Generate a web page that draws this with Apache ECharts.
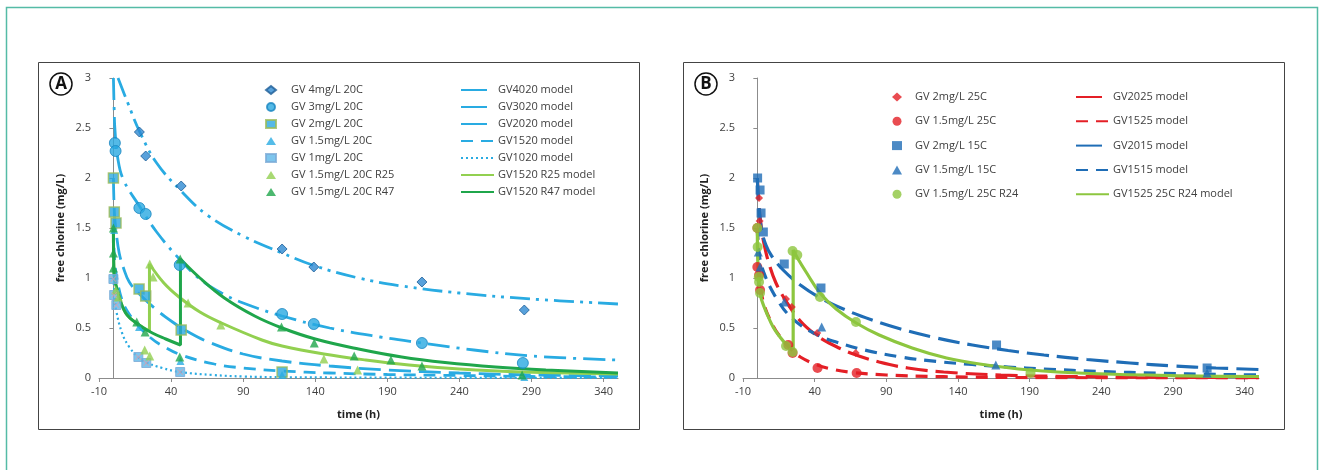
<!DOCTYPE html>
<html><head><meta charset="utf-8">
<script src="https://cdn.jsdelivr.net/npm/echarts@6/dist/echarts.min.js"></script>
<style>html,body{margin:0;padding:0;background:#fff}#c{width:1322px;height:470px}</style>
</head><body><div id="c"></div>
<script>
// ---------- tick labels ----------
const xTicks = [-10, 40, 90, 140, 190, 240, 290, 340];
const yTicks = [0, 0.5, 1, 1.5, 2, 2.5, 3];

// ---------- Panel A: measured data [time h, free chlorine mg/L] ----------
const gv4_20C = [[18,2.46],[22.4,2.22],[47,1.92],[117,1.29],[139,1.11],[214,0.96],[285,0.68]];
const gv3_20C = [[1,2.35],[1.5,2.27],[18,1.70],[22.4,1.64],[46,1.13],[117,0.64],[139,0.54],[214,0.35],[284,0.15]];
const gv2_20C = [[0,2.0],[0.6,1.66],[1.8,1.55],[17.8,0.89],[22.4,0.82],[47,0.48],[117,0.06]];
const gv15_20C = [[0.5,1.48],[17.8,0.51],[46.5,0.17],[117,0.03],[285,0.01]];
const gv1_20C = [[0,0.99],[0.5,0.83],[2,0.73],[17.3,0.21],[22.8,0.15],[46.3,0.06]];
const gv15_20C_R25 = [[1.6,0.88],[3.4,0.81],[21.7,0.28],[25.2,0.22],[25.2,1.14],[27.5,1.01],[51.8,0.75],[74.5,0.53],[146,0.19],[169.4,0.08]];
const gv15_20C_R47 = [[0,1.50],[0,1.25],[0,1.10],[16.2,0.56],[22,0.46],[46,0.21],[46.3,1.19],[116.6,0.51],[139.3,0.35],[167,0.22],[192.5,0.18],[214,0.12],[283.5,0.03]];

// ---------- Panel A: model curves ----------
const m4020 = [[3.2,3.0],[10,2.75],[18,2.47],[30,2.15],[47,1.87],[65,1.63],[90,1.42],[117,1.25],[140,1.12],[170,1.0],[200,0.92],[240,0.85],[290,0.79],[350,0.74]];
const m3020 = [[0,3.0],[0.5,2.7],[1,2.5],[3,2.2],[7,1.98],[18,1.72],[30,1.46],[47,1.17],[60,0.99],[75,0.85],[90,0.75],[117,0.62],[150,0.5],[185,0.41],[214,0.35],[250,0.28],[290,0.22],[350,0.18]];
const m2020 = [[0,2.0],[0.7,1.65],[2,1.45],[4,1.25],[7,1.1],[11,0.96],[18,0.84],[30,0.68],[41,0.56],[52,0.46],[66,0.36],[90,0.24],[117,0.17],[150,0.12],[190,0.08],[240,0.05],[290,0.03],[350,0.02]];
const m1520 = [[0,1.5],[1,1.15],[3,0.95],[6,0.78],[10,0.66],[18,0.51],[26,0.4],[33,0.33],[47,0.23],[70,0.14],[90,0.1],[117,0.07],[150,0.05],[190,0.035],[240,0.025],[290,0.015],[350,0.01]];
const m1020 = [[0,1.0],[1,0.8],[2,0.67],[6,0.45],[11,0.31],[17,0.21],[22,0.16],[34,0.1],[46,0.06],[69,0.03],[90,0.015],[120,0.008],[200,0.003],[350,0.001]];
const m1520R25 = [[0,1.5],[0.4,1.05],[2.7,0.88],[8.5,0.65],[17.8,0.53],[25,0.47],[25,1.14],[35,0.95],[45.5,0.81],[60,0.66],[75,0.55],[103,0.38],[117,0.32],[146,0.24],[175,0.18],[205,0.13],[240,0.09],[284,0.06],[350,0.04]];
const m1520R47 = [[0,1.5],[0.4,1.05],[2.7,0.88],[8.5,0.65],[17.8,0.53],[27,0.45],[36.3,0.39],[46.5,0.33],[46.5,1.19],[60,1.0],[77,0.8],[98,0.62],[117,0.5],[140,0.39],[170,0.29],[200,0.21],[230,0.155],[265,0.11],[300,0.08],[350,0.05]];

// ---------- Panel B: measured data ----------
const gv2_25C = [[1.2,1.80],[1.6,1.57],[20,0.79],[24,0.71],[41.8,0.45],[68.6,0.25]];
const gv15_25C = [[0,1.5],[0,1.11],[1.2,1.03],[1.9,0.88],[21.6,0.33],[24.6,0.25],[42,0.10],[69.3,0.05]];
const gv2_15C = [[0.2,2.0],[1.9,1.88],[2.6,1.65],[4.2,1.46],[18.8,1.14],[44.4,0.90],[166.9,0.33],[313.8,0.10]];
const gv15_15C = [[0.7,1.26],[1.9,1.11],[18.8,0.76],[44.9,0.51],[166.4,0.13],[313.8,0.05]];
const gv15_25C_R24 = [[0,1.50],[0.2,1.31],[1,1.01],[1.2,0.96],[1.9,0.85],[20,0.32],[24.6,0.26],[24.6,1.27],[27.9,1.23],[43.7,0.81],[68.8,0.56],[190.6,0.05]];

// ---------- Panel B: model curves ----------
const m2025 = [[0,2.0],[1,1.75],[3,1.48],[5,1.32],[8,1.15],[13,0.95],[20,0.77],[30,0.57],[40,0.44],[50,0.35],[67,0.24],[85,0.16],[105,0.1],[130,0.06],[170,0.03],[220,0.015],[300,0.006],[350,0.004]];
const m1525 = [[0,1.5],[1,1.1],[2,0.92],[5,0.72],[10,0.55],[15,0.43],[21,0.33],[25,0.27],[30,0.21],[40,0.14],[50,0.095],[65,0.058],[90,0.03],[130,0.013],[200,0.004],[350,0.0]];
const m2015 = [[0,2.0],[1,1.72],[3,1.48],[6,1.33],[10,1.22],[18,1.08],[30,0.93],[44,0.8],[60,0.69],[80,0.58],[100,0.49],[125,0.4],[150,0.33],[175,0.275],[200,0.23],[230,0.185],[260,0.15],[290,0.12],[320,0.1],[350,0.085]];
const m1515 = [[0,1.5],[1,1.27],[3,1.12],[6,1.0],[10,0.88],[15,0.76],[20,0.66],[30,0.53],[42,0.43],[55,0.36],[75,0.28],[100,0.21],[125,0.165],[150,0.135],[175,0.11],[200,0.09],[240,0.065],[280,0.048],[320,0.036],[350,0.03]];
const m1525R24 = [[0,1.5],[0.5,1.1],[1.9,0.86],[3,0.78],[6.5,0.65],[11,0.51],[15.8,0.41],[20,0.34],[25,0.29],[25,1.28],[28,1.2],[34,1.06],[43.7,0.85],[55,0.69],[69,0.55],[85,0.43],[108,0.3],[132,0.2],[155,0.14],[190,0.08],[232,0.045],[298,0.022],[350,0.015]];

// ---------- styling ----------
const FONT = 'Open Sans';
const TXT = '#404040';
const LB = '#29abe2';
const RED = '#e41f26', BLUE = '#1f6db6', LG = '#8dc63f';

function xAx(g){
  return {type:'value', gridIndex:g, min:-10, max:350, interval:50,
    axisLine:{show:true, onZero:false, lineStyle:{color:'#8c8c8c', width:1}},
    axisTick:{show:true, length:4, customValues:xTicks, lineStyle:{color:'#8c8c8c'}},
    axisLabel:{customValues:xTicks, color:TXT, fontSize:11, fontFamily:FONT, margin:8},
    splitLine:{show:false},
    name:'time (h)', nameLocation:'middle', nameGap:31,
    nameTextStyle:{color:'#222', fontWeight:'bold', fontSize:11, fontFamily:FONT}};
}
function yAx(g){
  return {type:'value', gridIndex:g, min:0, max:3, interval:0.5,
    axisLine:{show:true, lineStyle:{color:'#8c8c8c', width:1}},
    axisTick:{show:true, length:4, customValues:yTicks, lineStyle:{color:'#8c8c8c'}},
    axisLabel:{customValues:yTicks, color:TXT, fontSize:11, fontFamily:FONT, margin:8},
    splitLine:{show:false},
    name:'free chlorine (mg/L)', nameLocation:'middle', nameGap:33,
    nameTextStyle:{color:'#222', fontWeight:'bold', fontSize:11, fontFamily:FONT}};
}
function line(name, data, g, color, width, type){
  return {type:'line', name, data, xAxisIndex:g, yAxisIndex:g, symbol:'none',
    smooth:0.4, z:2,
    lineStyle:{color, width, type}, itemStyle:{color}};
}
function pts(name, data, g, symbol, size, style){
  return {type:'scatter', name, data, xAxisIndex:g, yAxisIndex:g, symbol, symbolSize:size,
    z:4, itemStyle:style};
}
const xPath = 'path://M1,0 L5,4 L9,0 L10,1 L6,5 L10,9 L9,10 L5,6 L1,10 L0,9 L4,5 L0,1 Z';

const series = [
  line('GV4020 model', m4020, 0, LB, 2.8, [20,6,3,6,3,6]),
  line('GV3020 model', m3020, 0, LB, 2.8, [22,7,3,7]),
  line('GV2020 model', m2020, 0, LB, 2.8, [22,8]),
  line('GV1520 model', m1520, 0, LB, 2.8, [12,8]),
  line('GV1020 model', m1020, 0, LB, 2.2, [2,3]),
  line('GV1520 R25 model', m1520R25, 0, '#92d050', 3, 'solid'),
  line('GV1520 R47 model', m1520R47, 0, '#1fa64b', 3, 'solid'),
  pts('GV 4mg/L 20C', gv4_20C, 0, 'diamond', 10, {color:'#2e8ad2', borderColor:'#1d5c96', borderWidth:1}),
  pts('GV 3mg/L 20C', gv3_20C, 0, 'circle', 11, {color:'#29a9e1', borderColor:'#1a86c0', borderWidth:1}),
  pts('GV 2mg/L 20C', gv2_20C, 0, 'rect', 10, {color:'#2aa7e0', borderColor:'#9bbb59', borderWidth:1.5}),
  pts('GV 1.5mg/L 20C', gv15_20C, 0, 'triangle', 8, {color:LB}),
  pts('GV 1mg/L 20C', gv1_20C, 0, 'rect', 9, {color:'#5db7e8', borderColor:'#7aaad6', borderWidth:1}),
  {type:'scatter', name:'gv1mark', data:gv1_20C, xAxisIndex:0, yAxisIndex:0, symbol:xPath, symbolSize:6, z:5, itemStyle:{color:'#e39aa5'}},
  pts('GV 1.5mg/L 20C R25', gv15_20C_R25, 0, 'triangle', 9, {color:'#92d050'}),
  pts('GV 1.5mg/L 20C R47', gv15_20C_R47, 0, 'triangle', 9, {color:'#1fa64b'}),

  line('GV2025 model', m2025, 1, RED, 3.2, [22,8]),
  line('GV1525 model', m1525, 1, RED, 3.2, [12,8]),
  line('GV2015 model', m2015, 1, BLUE, 3.2, [22,8]),
  line('GV1515 model', m1515, 1, BLUE, 3.2, [12,8]),
  line('GV1525 25C R24 model', m1525R24, 1, LG, 3.2, 'solid'),
  pts('GV 2mg/L 25C', gv2_25C, 1, 'diamond', 8, {color:RED}),
  pts('GV 1.5mg/L 25C', gv15_25C, 1, 'circle', 10, {color:RED}),
  pts('GV 2mg/L 15C', gv2_15C, 1, 'rect', 9, {color:BLUE}),
  pts('GV 1.5mg/L 15C', gv15_15C, 1, 'triangle', 9, {color:BLUE}),
  pts('GV 1.5mg/L 25C R24', gv15_25C_R24, 1, 'circle', 10, {color:LG}),
];

// legend entries: long-dash models show one solid dash as their key sample
const longKey = {type:[26,100]};
function lg(left, top, names, w, h, gap, pad, hideSymbol){
  const o = {orient:'vertical', left, top, padding:0, data:names, itemWidth:w, itemHeight:h, itemGap:gap,
    selectedMode:false,
    textStyle:{color:TXT, fontSize:11, fontFamily:FONT, lineHeight:14, padding:[0,0,0,pad]}};
  if (hideSymbol) o.itemStyle = {opacity:0};
  return o;
}

const option = {
  animation:false,
  backgroundColor:'#fff',
  grid:[
    {left:99, top:78, width:519, height:300},
    {left:743, top:78, width:516, height:300}
  ],
  xAxis:[xAx(0), xAx(1)],
  yAxis:[yAx(0), yAx(1)],
  legend:[
    lg(265, 83, ['GV 4mg/L 20C','GV 3mg/L 20C','GV 2mg/L 20C','GV 1.5mg/L 20C','GV 1mg/L 20C','GV 1.5mg/L 20C R25','GV 1.5mg/L 20C R47'], 10, 8, 3, 10, false),
    lg(460, 83, [{name:'GV4020 model', lineStyle:longKey},{name:'GV3020 model', lineStyle:longKey},{name:'GV2020 model', lineStyle:longKey},'GV1520 model','GV1020 model','GV1520 R25 model','GV1520 R47 model'], 33, 9, 3, -1, true),
    lg(892, 90, ['GV 2mg/L 25C','GV 1.5mg/L 25C','GV 2mg/L 15C','GV 1.5mg/L 15C','GV 1.5mg/L 25C R24'], 10, 9, 10.3, 8, false),
    lg(1075, 90, [{name:'GV2025 model', lineStyle:longKey},'GV1525 model',{name:'GV2015 model', lineStyle:longKey},'GV1515 model','GV1525 25C R24 model'], 33, 9, 10.3, -1, true)
  ],
  graphic:[
    {type:'rect', shape:{x:6.5, y:7.5, width:1311, height:480}, style:{fill:'none', stroke:'#55bba6', lineWidth:1.5}, silent:true},
    {type:'rect', shape:{x:38.5, y:62.5, width:601, height:367}, style:{fill:'none', stroke:'#444', lineWidth:1}, silent:true},
    {type:'rect', shape:{x:683.5, y:62.5, width:601, height:367}, style:{fill:'none', stroke:'#444', lineWidth:1}, silent:true},
    {type:'circle', shape:{cx:61, cy:84, r:11}, style:{fill:'#fff', stroke:'#111', lineWidth:1.5}, silent:true},
    {type:'text', x:61, y:84, style:{text:'A', fill:'#111', font:'bold 17px "Open Sans"', align:'center', verticalAlign:'middle'}, silent:true},
    {type:'circle', shape:{cx:706, cy:84, r:11}, style:{fill:'#fff', stroke:'#111', lineWidth:1.5}, silent:true},
    {type:'text', x:706, y:84, style:{text:'B', fill:'#111', font:'bold 17px "Open Sans"', align:'center', verticalAlign:'middle'}, silent:true}
  ],
  series
};
const chart = echarts.init(document.getElementById('c'), null, {renderer:'canvas'});
chart.setOption(option);
</script></body></html>
